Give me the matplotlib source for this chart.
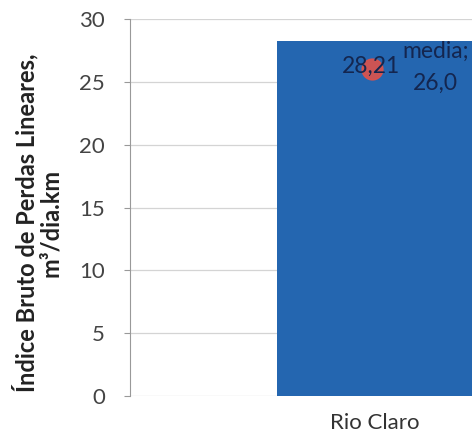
import matplotlib.pyplot as plt

categorias = ["Rio Claro"]
valores = [28.21]
media = 26.0
rotulo_valor = "28,21"
rotulo_media = "media;\n26,0"

plt.rcParams['font.family'] = ['Lato', 'DejaVu Sans']

fig = plt.figure(figsize=(4.72, 4.42), dpi=100)
ax = fig.add_axes([130 / 472, 1 - 396 / 442, 1 - 130 / 472, 377 / 442])

x = list(range(len(categorias)))
ax.bar(x, valores, width=1.0, color='#2466B0', zorder=2)
# marcador da media, rotulos por cima
ax.plot([-0.015], [media], 'o', color='#E0524A', markersize=15, alpha=0.9, zorder=3)
ax.text(-0.02, 26.2, rotulo_valor, ha='center', va='center', fontsize=16.5,
        color='#14264F', zorder=4)
ax.text(0.31, 28.3, rotulo_media, ha='center', va='top', fontsize=16.5,
        color='#14264F', linespacing=1.65, zorder=4)

ax.set_xlim(-1.25, 0.495)
ax.set_ylim(0, 30)
ax.set_yticks(range(0, 31, 5))
ax.set_xticks(x)
ax.set_xticklabels(categorias, fontsize=16, color='#333333')
ax.tick_params(axis='x', length=0, pad=12)
ax.tick_params(axis='y', direction='out', length=4, color='#999999',
               labelsize=16, labelcolor='#444444', pad=14)
ax.grid(axis='y', color='#D4D4D4', linewidth=0.9, zorder=0)
for lado in ['top', 'right', 'bottom']:
    ax.spines[lado].set_visible(False)
ax.spines['left'].set_color('#999999')
ax.set_ylabel("Índice Bruto de Perdas Lineares,\nm³/dia.km", fontsize=17,
              fontweight='bold', color='#222222', linespacing=1.05)
ax.yaxis.set_label_coords(-0.198, 0.46)

fig.savefig('out.png', dpi=100)
